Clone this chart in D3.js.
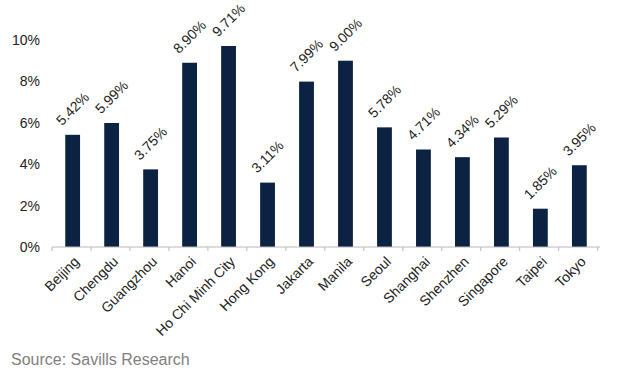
<!DOCTYPE html>
<html>
<head>
<meta charset="utf-8">
<script src="https://cdn.jsdelivr.net/npm/d3@7.9.0/dist/d3.min.js"></script>
<style>
  body { margin: 0; background: #fff; }
  text { font-family: "Liberation Sans", Arial, sans-serif; }
</style>
</head>
<body>
<svg id="chart" width="640" height="377"></svg>
<script>
const cities = ["Beijing", "Chengdu", "Guangzhou", "Hanoi", "Ho Chi Minh City", "Hong Kong", "Jakarta",
  "Manila", "Seoul", "Shanghai", "Shenzhen", "Singapore", "Taipei", "Tokyo"];
const values = [5.42, 5.99, 3.75, 8.90, 9.71, 3.11, 7.99, 9.00, 5.78, 4.71, 4.34, 5.29, 1.85, 3.95];
const yTicks = [0, 2, 4, 6, 8, 10];
const sourceText = "Source: Savills Research";

const svg = d3.select("#chart");
const margin = { top: 40, right: 40, bottom: 130, left: 52 };
const width = 640 - margin.left - margin.right;
const height = 377 - margin.top - margin.bottom;
const g = svg.append("g").attr("transform", `translate(${margin.left},${margin.top})`);

const x = d3.scaleBand().domain(cities).range([0, width]).paddingInner(0.62).paddingOuter(0.34);
const y = d3.scaleLinear().domain([0, 10]).range([height, 0]);

// y labels (no axis line)
g.selectAll(".ylab")
  .data(yTicks)
  .join("text")
  .attr("x", -12)
  .attr("y", d => y(d))
  .attr("dy", "0.35em")
  .attr("text-anchor", "end")
  .attr("font-size", 14)
  .attr("fill", "#222")
  .text(d => d + "%");

// bars
g.selectAll(".bar")
  .data(values)
  .join("rect")
  .attr("x", (d, i) => x(cities[i]))
  .attr("width", x.bandwidth())
  .attr("y", d => y(d))
  .attr("height", d => height - y(d))
  .attr("fill", "#0b2243");

// x axis line and ticks at category boundaries
g.append("line")
  .attr("x1", 0).attr("x2", width)
  .attr("y1", height).attr("y2", height)
  .attr("stroke", "#b8b8b8");
const step = x.step();
g.selectAll(".tick")
  .data(d3.range(cities.length + 1))
  .join("line")
  .attr("x1", i => i * step).attr("x2", i => i * step)
  .attr("y1", height).attr("y2", height + 4)
  .attr("stroke", "#b8b8b8");

// value labels
g.selectAll(".val")
  .data(values)
  .join("text")
  .attr("transform", (d, i) => `translate(${x(cities[i]) + x.bandwidth() / 2},${y(d) - 26}) rotate(-45)`)
  .attr("dy", "0.35em")
  .attr("text-anchor", "middle")
  .attr("font-size", 14)
  .attr("fill", "#222")
  .text(d => d.toFixed(2) + "%");

// category labels
g.selectAll(".cat")
  .data(cities)
  .join("text")
  .attr("transform", d => `translate(${x(d) + x.bandwidth() / 2 + 4},${height + 12}) rotate(-45)`)
  .attr("dy", "0.35em")
  .attr("text-anchor", "end")
  .attr("font-size", 14)
  .attr("fill", "#222")
  .text(d => d);

svg.append("text")
  .attr("x", 11)
  .attr("y", 365)
  .attr("font-size", 16)
  .attr("fill", "#808080")
  .text(sourceText);
</script>
</body>
</html>
